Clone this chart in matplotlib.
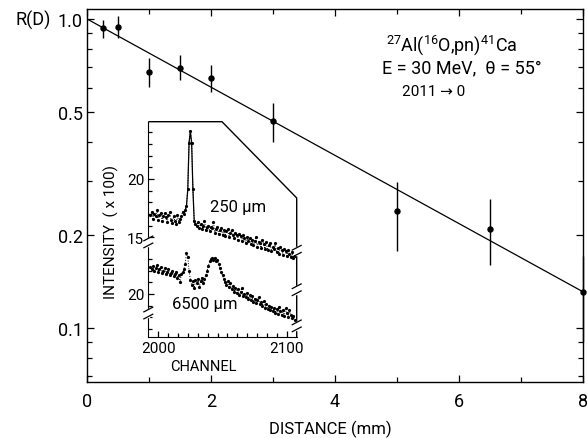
import numpy as np
import matplotlib
matplotlib.use("Agg")
import matplotlib.pyplot as plt
from matplotlib.ticker import FixedLocator, NullFormatter
import matplotlib.transforms as mtransforms

plt.rcParams['font.family'] = ['Roboto', 'DejaVu Sans']
plt.rcParams['mathtext.fontset'] = 'custom'
plt.rcParams['mathtext.rm'] = 'Roboto'
plt.rcParams['mathtext.it'] = 'Roboto:italic'

# ---------------- main data ----------------
distance = [0.25, 0.5, 1.0, 1.5, 2.0, 3.0, 5.0, 6.5, 8.0]
ratio = [0.933, 0.944, 0.675, 0.694, 0.646, 0.469, 0.239, 0.209, 0.131]
ratio_lo = [0.870, 0.870, 0.601, 0.635, 0.579, 0.401, 0.178, 0.160, 0.090]
ratio_hi = [0.995, 1.020, 0.746, 0.765, 0.710, 0.535, 0.296, 0.262, 0.171]
fit_distance = [0.0, 8.0]
fit_ratio = [1.0, 0.131]
x_ticks = [0, 2, 4, 6, 8]
y_ticks = [1.0, 0.5, 0.2, 0.1]
y_ticklabels = ["1.0", "0.5", "0.2", "0.1"]

# ---------------- inset spectra ----------------
channels = list(range(1994, 2107))
spec_250 = [16.9, 17.2, 16.6, 17.0, 16.8, 17.3, 16.5, 16.9, 17.1, 16.4,
            16.8, 17.1, 16.7, 16.3, 16.9, 17.2, 16.5, 16.2, 16.8, 16.4,
            16.1, 16.9, 16.3, 16.6, 16.8, 17.2,
            17.0, 17.3, 17.7, 19.1, 23.1, 24.1, 23.1, 19.1, 16.4, 16.1,
            16.0, 16.3, 15.8, 16.1, 15.7, 16.0, 16.4, 15.6, 15.9, 16.0,
            15.5, 15.9, 15.8, 16.3, 15.4, 15.7, 15.9, 15.3, 15.6, 15.8,
            15.2, 15.6, 15.1, 15.5, 15.7, 15.0, 15.4, 15.6, 15.2, 14.9,
            15.4, 15.2, 14.8, 15.3, 15.1, 14.7, 15.2, 14.9, 14.5, 15.0,
            14.7, 14.9, 14.4, 14.8, 14.3, 14.7, 15.0, 14.2, 14.6, 14.5,
            14.1, 14.8, 14.4, 14.0, 14.6, 13.9, 14.3, 14.5, 13.8, 14.2,
            14.0, 14.5, 13.7, 14.1, 13.6, 14.2, 13.9, 13.5, 14.0, 13.8,
            13.4, 13.9, 13.6, 13.3, 13.7, 13.2, 13.4]
spec_6500 = [22.3, 22.1, 22.4, 22.0, 22.2, 22.5, 21.9, 22.1, 22.3, 21.8,
             22.0, 22.2, 21.7, 21.9, 22.1, 21.6, 21.8, 22.0, 21.5, 21.7,
             21.9, 21.4, 21.6,
             21.0, 21.7, 21.9, 22.1, 22.6, 23.5, 23.2, 22.0, 21.2, 20.8,
             21.1, 20.5, 21.2,
             20.9, 21.3, 20.6, 21.1, 21.4, 20.9, 21.3, 21.6,
             22.0, 22.4, 22.8, 23.0, 23.1, 22.9, 23.1, 22.8, 22.9, 22.6,
             22.2, 21.9, 21.6,
             21.3, 21.0, 20.8, 21.1, 20.6, 20.9, 20.4, 20.7, 20.2,
             20.5, 20.1, 20.4, 19.9, 20.2, 20.5, 19.8, 20.0, 19.7, 20.1,
             19.6, 19.9, 19.5, 19.8, 19.3, 19.6, 19.2, 19.5, 19.7, 19.1,
             19.3, 19.0, 19.4, 18.8, 19.1, 18.7, 19.0, 18.6, 18.9, 18.5,
             18.8, 18.4, 18.7, 18.3, 18.9, 18.5, 18.2, 18.6, 18.1, 18.8,
             18.4, 18.0, 18.6, 18.2, 17.9, 18.1, 17.8]
lower_offset = 10.137 - 20.0   # lower spectrum drawn below the upper one (broken axis)

W, H = 587, 439
fig = plt.figure(figsize=(W / 100, H / 100), dpi=100)

def fx(x):
    return x / W

def fy(y):
    return 1 - y / H

# ---------------- main axes ----------------
ax = fig.add_axes([fx(87), fy(383), fx(583) - fx(87), fy(10) - fy(383)])
ax.set_yscale('log')
ax.set_xlim(0, 8)
ax.set_ylim(0.0669, 1.077)

ax.plot(fit_distance, fit_ratio, color='black', lw=0.9)
d = np.array(distance)
r = np.array(ratio)
ax.errorbar(d, r, yerr=[r - np.array(ratio_lo), np.array(ratio_hi) - r],
            fmt='o', ms=3.6, color='black', ecolor='black', elinewidth=1.0,
            capsize=0, clip_on=False, zorder=5)

ax.set_xticks(x_ticks)
ax.set_xticklabels([str(t) for t in x_ticks])
ax.xaxis.set_minor_locator(FixedLocator([1, 3, 5, 7]))
ax.yaxis.set_major_locator(FixedLocator(y_ticks))
ax.set_yticklabels(y_ticklabels)
minor_y = [0.07, 0.08, 0.09, 0.3, 0.4, 0.6, 0.7, 0.8, 0.9]
ax.yaxis.set_minor_locator(FixedLocator(minor_y))
ax.yaxis.set_minor_formatter(NullFormatter())
ax.tick_params(which='both', direction='in', top=True, right=True, width=0.9)
ax.tick_params(which='major', length=5)
ax.tick_params(which='minor', length=3.5)
ax.tick_params(axis='y', labelsize=13, pad=3)
ax.tick_params(axis='x', labelsize=13, pad=7)
for s in ax.spines.values():
    s.set_linewidth(1.0)

fig.text(fx(33), fy(20), "R(D)", fontsize=13, ha='center', va='center')
fig.text(fx(330), fy(429), "DISTANCE (mm)", fontsize=12, ha='center', va='center')
fig.text(fx(452), fy(45), r"$^{27}$Al($^{16}$O,pn)$^{41}$Ca", fontsize=13,
         ha='center', va='center')
fig.text(fx(462), fy(68), "E = 30 MeV,  θ = 55°", fontsize=13, ha='center', va='center')
fig.text(fx(434), fy(92), "2011 → 0", fontsize=11, ha='center', va='center')

# ---------------- inset axes ----------------
x0, x1 = 2000 - 100 / 13, 2100 + 100 / 13
yb, yt = 6.42, 24.91
axi = fig.add_axes([fx(148.3), fy(338.3), fx(296.7) - fx(148.3), fy(122.7) - fy(338.3)])
axi.set_facecolor('none')
axi.set_xlim(x0, x1)
axi.set_ylim(yb, yt)
axi.spines['top'].set_visible(False)
axi.spines['right'].set_visible(False)

ch = np.array(channels)
up = np.array(spec_250)
lo = np.array(spec_6500) + lower_offset
axi.plot(ch, up, ':', color='black', lw=0.7)
pk = (ch >= 2020) & (ch <= 2030)
axi.plot(ch[pk], up[pk], '-', color='black', lw=0.9)
axi.plot(ch, up, 'o', color='black', ms=2.3, mew=0)
axi.plot(ch, lo, ':', color='black', lw=0.7)
axi.plot(ch, lo, 'o', color='black', ms=2.3, mew=0)

# clipped frame (top + diagonal + right)
c_corner = 2049.6
y_corner = 18.37
axi.plot([x0, c_corner, x1, x1], [yt, yt, y_corner, yb], color='black',
         lw=1.0, clip_on=False, solid_capstyle='butt')

axi.set_xticks([2000, 2100])
axi.set_xticklabels(["2000", "2100"])
axi.xaxis.set_minor_locator(FixedLocator(list(np.linspace(2000, 2100, 14))))
axi.set_yticks([20, 15, 20 + lower_offset])
axi.set_yticklabels(["20", "15", "20"])
up_minor = [16, 17, 18, 19, 21, 22, 23, 24]
lo_minor = [v + lower_offset for v in [17, 18, 19, 21, 22, 23]]
axi.yaxis.set_minor_locator(FixedLocator(up_minor + lo_minor))
axi.tick_params(which='both', direction='in', width=0.9)
axi.tick_params(which='major', length=4)
axi.tick_params(which='minor', length=3)
axi.tick_params(axis='both', labelsize=11, pad=3)

# break marks on inset spines
def brk(xa, yd):
    tr = mtransforms.blended_transform_factory(axi.transAxes, axi.transData)
    axi.plot([xa, xa], [yd - 0.25, yd + 0.25], color='white', lw=2.5,
             transform=tr, clip_on=False, zorder=6)
    for dy in (-0.3, 0.3):
        axi.plot([xa - 0.03, xa + 0.03], [yd + dy - 0.2, yd + dy + 0.2],
                 color='black', lw=0.9, transform=tr, clip_on=False, zorder=7)

brk(0.0, 14.6)
brk(0.0, 8.5)
brk(1.0, 13.8)
brk(1.0, 10.5)
brk(1.0, 7.4)

fig.text(fx(111), fy(232), "INTENSITY  ( x 100)", fontsize=11, rotation=90,
         ha='center', va='center')
fig.text(fx(238), fy(208), "250 μm", fontsize=12, ha='center', va='center')
fig.text(fx(205), fy(305), "6500 μm", fontsize=12, ha='center', va='center')
fig.text(fx(203), fy(367), "CHANNEL", fontsize=10.5, ha='center', va='center')

fig.savefig("out.png", dpi=100)
